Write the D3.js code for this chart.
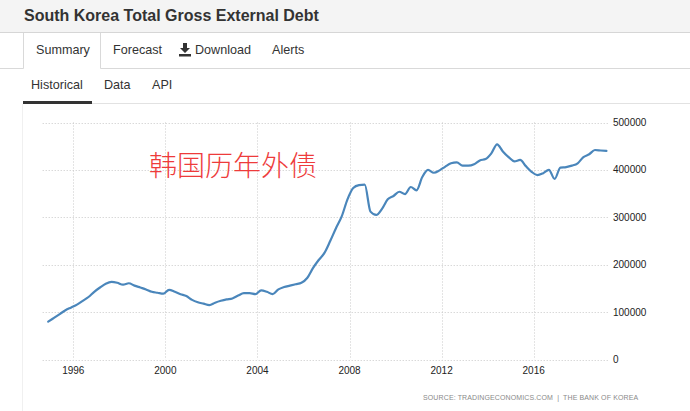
<!DOCTYPE html>
<html>
<head>
<meta charset="utf-8">
<script src="https://cdn.jsdelivr.net/npm/d3@7"></script>
<style>
  html, body { margin: 0; padding: 0; background: #fff; }
  svg { display: block; font-family: "Liberation Sans", Arial, sans-serif; }
</style>
</head>
<body>
<svg id="chart" width="690" height="411"></svg>
<script>
// ---- data ----
const firstQuarter = "1994-12";   // first observation (quarterly)
const debt = [
  80000, 88000, 96000, 104000, 110000, 116000, 124000, 132000, 143000, 152000,
  160000, 164000, 162000, 158000, 161000, 156000, 152000, 148000, 143000, 141000,
  139000, 147000, 143000, 138000, 134000, 126000, 121000, 118000, 115000, 120000,
  124000, 127000, 129000, 135000, 140000, 140000, 138000, 146000, 143000, 138000,
  148000, 153000, 156000, 159000, 162000, 172000, 193000, 210000, 225000, 250000,
  277000, 302000, 338000, 362000, 368000, 369000, 312000, 305000, 318000, 338000,
  345000, 354000, 349000, 364000, 357000, 385000, 400000, 394000, 399000, 407000,
  414000, 416000, 409000, 409000, 412000, 420000, 423000, 435000, 454000, 439000,
  427000, 418000, 421000, 408000, 396000, 389000, 393000, 400000, 381000, 405000,
  406000, 409000, 414000, 427000, 433000, 442000, 441000, 440000
];
const yTicks = [0, 100000, 200000, 300000, 400000, 500000];
const xTicks = [1996, 2000, 2004, 2008, 2012, 2016];
const tabs = ["Summary", "Forecast", "Download", "Alerts"];
const subTabs = ["Historical", "Data", "API"];
const title = "South Korea Total Gross External Debt";
const annotation = "韩国历年外债";
const source = "SOURCE: TRADINGECONOMICS.COM  |  THE BANK OF KOREA";

// ---- build time axis values ----
const start = d3.timeParse("%Y-%m")(firstQuarter);
const dates = debt.map((_, i) => d3.timeMonth.offset(start, 3 * i));
const toYear = d => d.getFullYear() + d.getMonth() / 12 + (d.getDate() - 1) / 365;
const series = debt.map((v, i) => ({ t: toYear(dates[i]) + 1 / 12 - 0.09, v }));

const svg = d3.select("#chart");

// ---- header ----
svg.append("rect").attr("x", 0).attr("y", 0).attr("width", 690).attr("height", 32).attr("fill", "#f4f4f4");
svg.append("line").attr("x1", 0).attr("x2", 690).attr("y1", 32.5).attr("y2", 32.5).attr("stroke", "#d6d6d6");
svg.append("text").attr("x", 24).attr("y", 21).attr("fill", "#333")
  .attr("font-size", 16).attr("font-weight", "bold").text(title);

// tabs row
const lineCol = "#d9d9d9";
svg.append("line").attr("x1", 0).attr("x2", 23.5).attr("y1", 68.5).attr("y2", 68.5).attr("stroke", lineCol);
svg.append("line").attr("x1", 100.5).attr("x2", 690).attr("y1", 68.5).attr("y2", 68.5).attr("stroke", lineCol);
svg.append("line").attr("x1", 23.5).attr("x2", 23.5).attr("y1", 33).attr("y2", 68.5).attr("stroke", lineCol);
svg.append("line").attr("x1", 100.5).attr("x2", 100.5).attr("y1", 33).attr("y2", 68.5).attr("stroke", lineCol);

const tabX = [36, 113, 195, 272];
svg.selectAll("text.tab").data(tabs).join("text").attr("class", "tab")
  .attr("x", (d, i) => tabX[i]).attr("y", 54).attr("fill", "#333").attr("font-size", 12.6).text(d => d);
// download icon
svg.append("path").attr("fill", "#333")
  .attr("d", "M183,43 h4 v5 h3 l-5,5 l-5,-5 h3 z M179,54 h12 v2.5 h-12 z");

// sub-tabs row
svg.append("line").attr("x1", 92).attr("x2", 690).attr("y1", 103.5).attr("y2", 103.5).attr("stroke", "#e2e2e2");
svg.append("rect").attr("x", 23).attr("y", 101).attr("width", 69).attr("height", 3).attr("fill", "#333");
const subX = [31, 104, 152];
svg.selectAll("text.sub").data(subTabs).join("text").attr("class", "sub")
  .attr("x", (d, i) => subX[i]).attr("y", 89).attr("fill", "#333").attr("font-size", 12.6).text(d => d);
svg.append("line").attr("x1", 22.5).attr("x2", 22.5).attr("y1", 104).attr("y2", 411).attr("stroke", "#f0f0f0");

// ---- chart ----
const x = d3.scaleLinear().domain([1996, 2016]).range([73.3, 533.7]);
const y = d3.scaleLinear().domain([0, 500000]).range([359.6, 122.5]);
const gridLeft = 42.7, gridRight = 608;

const grid = svg.append("g");
grid.selectAll("line.h").data(yTicks).join("line").attr("class", "h")
  .attr("x1", gridLeft).attr("x2", gridRight)
  .attr("y1", d => Math.round(y(d)) + 0.5).attr("y2", d => Math.round(y(d)) + 0.5)
  .attr("stroke", "#c8c8c8").attr("stroke-dasharray", "1,2");
grid.selectAll("line.v").data(xTicks).join("line").attr("class", "v")
  .attr("x1", d => Math.round(x(d)) + 0.5).attr("x2", d => Math.round(x(d)) + 0.5)
  .attr("y1", y(500000)).attr("y2", y(0))
  .attr("stroke", "#c8c8c8").attr("stroke-dasharray", "1,2");

// y labels
svg.selectAll("text.yl").data(yTicks).join("text").attr("class", "yl")
  .attr("x", 613).attr("y", d => y(d) + 3.5).attr("fill", "#222").attr("font-size", 10)
  .text(d => d3.format("d")(d));
// x labels
svg.selectAll("text.xl").data(xTicks).join("text").attr("class", "xl")
  .attr("x", d => x(d)).attr("y", 374).attr("text-anchor", "middle").attr("fill", "#222").attr("font-size", 10)
  .text(d => d);

// line
const line = d3.line().x(d => x(d.t)).y(d => y(d.v)).curve(d3.curveMonotoneX);
svg.append("path").datum(series).attr("d", line)
  .attr("fill", "none").attr("stroke", "#4a86bb").attr("stroke-width", 2.2)
  .attr("stroke-linejoin", "round").attr("stroke-linecap", "round");

// annotation
svg.append("text").attr("x", 149).attr("y", 176).attr("fill", "#ee3b3b")
  .attr("font-size", 28).attr("font-family", "'Noto Sans CJK SC', sans-serif").attr("font-weight", 300)
  .text(annotation);

// source
svg.append("text").attr("x", 423).attr("y", 400).attr("fill", "#8a8a8a")
  .attr("font-size", 7).attr("letter-spacing", 0.12).style("white-space", "pre").attr("xml:space", "preserve")
  .text(source);
</script>
</body>
</html>
